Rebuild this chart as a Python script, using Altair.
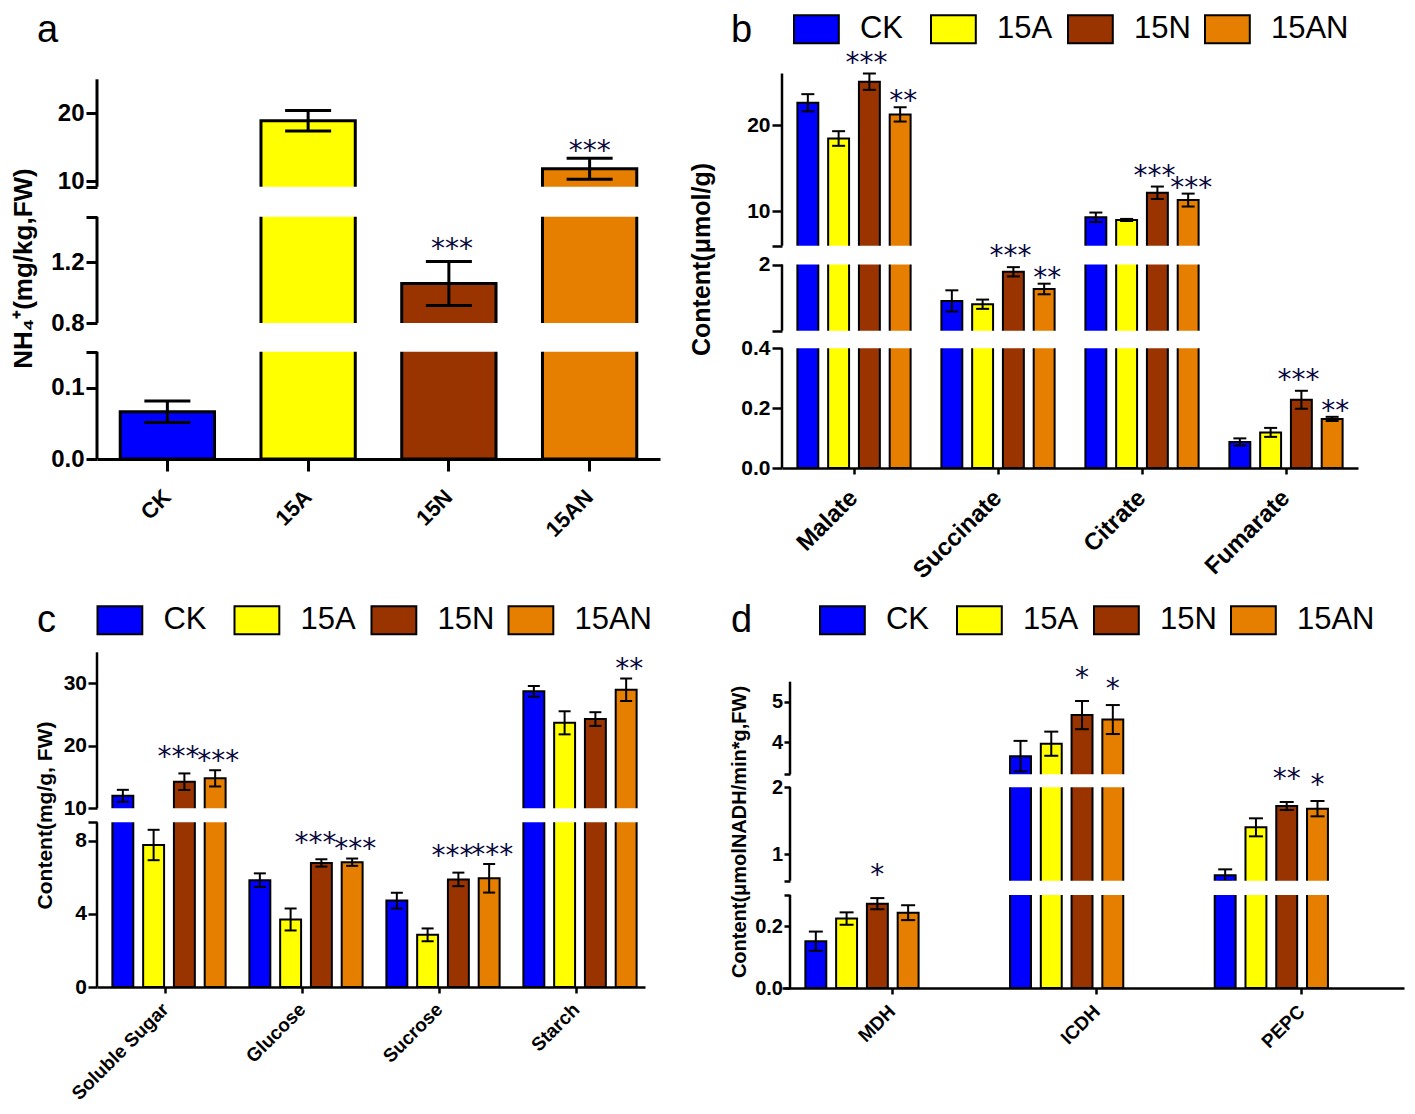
import json
import altair as alt
import pandas as pd

# ------------------------------------------------------------------ data
series = ["CK", "15A", "15N", "15AN"]
colors = ["#0000FF", "#FFFF00", "#993300", "#E67E00"]

# panel a : NH4+
a_values = [0.066, 18.9, 1.06, 11.85]
a_errors = [0.015, 1.5, 0.145, 1.55]
a_stars = ["", "", "***", "***"]
a_segments = [[0, 0.15], [0.8, 1.5], [9.2, 25]]
a_labels = [0, 0.1, 0.8, 1.2, 10, 20]

# panel b : organic acids
b_groups = ["Malate", "Succinate", "Citrate", "Fumarate"]
b_ck = [22.6, 1.45, 9.3, 0.087]
b_15a = [18.45, 1.40, 8.99, 0.119]
b_15n = [25.05, 1.89, 12.15, 0.228]
b_15an = [21.25, 1.63, 11.3, 0.164]
b_ck_err = [1.0, 0.16, 0.55, 0.012]
b_15a_err = [0.85, 0.07, 0.12, 0.015]
b_15n_err = [0.95, 0.07, 0.72, 0.03]
b_15an_err = [0.83, 0.08, 0.75, 0.007]
b_ck_stars = ["", "", "", ""]
b_15a_stars = ["", "", "", ""]
b_15n_stars = ["***", "***", "***", "***"]
b_15an_stars = ["**", "**", "***", "**"]
b_segments = [[0, 0.4], [1, 2], [6, 26]]
b_labels = [0, 0.2, 0.4, 2, 10, 20]

# panel c : sugars
c_groups = ["Soluble Sugar", "Glucose", "Sucrose", "Starch"]
c_ck = [12.0, 5.84, 4.72, 28.75]
c_15a = [7.76, 3.69, 2.85, 23.7]
c_15n = [14.26, 6.78, 5.88, 24.3]
c_15an = [14.8, 6.82, 5.94, 29.0]
c_ck_err = [0.96, 0.37, 0.43, 0.85]
c_15a_err = [0.83, 0.6, 0.35, 1.85]
c_15n_err = [1.33, 0.2, 0.37, 1.1]
c_15an_err = [1.3, 0.2, 0.78, 1.8]
c_ck_stars = ["", "", "", ""]
c_15a_stars = ["", "", "", ""]
c_15n_stars = ["***", "***", "***", ""]
c_15an_stars = ["***", "***", "***", "**"]
c_segments = [[0, 9], [10, 35]]
c_labels = [0, 4, 8, 10, 20, 30]

# panel d : enzymes
d_groups = ["MDH", "ICDH", "PEPC"]
d_ck = [0.151, 3.65, 0.68]
d_15a = [0.224, 3.96, 1.40]
d_15n = [0.272, 4.67, 1.72]
d_15an = [0.243, 4.56, 1.68]
d_ck_err = [0.031, 0.38, 0.09]
d_15a_err = [0.02, 0.30, 0.135]
d_15n_err = [0.018, 0.35, 0.06]
d_15an_err = [0.024, 0.36, 0.115]
d_ck_stars = ["", "", ""]
d_15a_stars = ["", "", ""]
d_15n_stars = ["*", "*", "**"]
d_15an_stars = ["", "*", "*"]
d_segments = [[0, 0.3], [0.6, 2], [3.2, 5.5]]
d_labels = [0, 0.2, 1, 2, 4, 5]

FONT = "Liberation Sans, Arial, Helvetica, sans-serif"
STAR_FONT = "DejaVu Sans, sans-serif"
STAR_COLOR = "#0a0a3c"


def grouped_frame(groups, vals, errs, stars):
    rows = []
    for s, vs, es, ss in zip(series, vals, errs, stars):
        for g, v, e, st in zip(groups, vs, es, ss):
            rows.append({"group": g, "series": s, "value": v,
                         "lo": v - e, "hi": v + e, "star": st})
    return pd.DataFrame(rows)


def single_frame(vals, errs, stars):
    rows = []
    for s, v, e, st in zip(series, vals, errs, stars):
        rows.append({"group": s, "series": s, "value": v,
                     "lo": v - e, "hi": v + e, "star": st})
    return pd.DataFrame(rows)


def panel(df, groups, segs, labels, P, grouped=True):
    bounds = [v for s in segs for v in s]
    yscale = alt.Scale(domain=bounds, range=P["yrange"], nice=False, zero=False)
    tick_vals = sorted(set(bounds[:-1]) | set(labels))
    label_expr = ("indexof(%s, datum.value) >= 0 ? format(datum.value, datum.value < %s ? '.1f' : 'd') : ''"
                  % (json.dumps(labels), P["thr"]))
    yaxis = alt.Axis(values=tick_vals, labelExpr=label_expr, domain=False, grid=False,
                     offset=P.get("yoff", 0),
                     tickSize=P["ytick"], tickWidth=P["aw"], tickColor="black",
                     labelFont=FONT, labelFontWeight="bold", labelFontSize=P["ylfs"],
                     labelColor="black", labelPadding=P["ylpad"], labelOverlap=False,
                     labelFlush=False, title=P["title"], titleFont=FONT,
                     titleFontWeight="bold", titleFontSize=P["tfs"], titleColor="black",
                     titleAngle=270, titleAlign="center", titleBaseline="alphabetic",
                     titleX=P["tx"], titleY=P["ty"])
    xaxis = alt.Axis(title=None, domainColor="black", domainWidth=P["aw"],
                     tickColor="black", tickWidth=P["aw"], tickSize=P["xtick"],
                     labelAngle=315, labelAlign="right", labelBaseline="middle",
                     labelPadding=P["xlpad"], labelFont=FONT, labelFontWeight="bold",
                     labelFontSize=P["xlfs"], labelColor="black", grid=False)
    xscale = alt.Scale(paddingInner=P["pi"], paddingOuter=P["po"], align=P.get("align", 0.5))
    x0 = -P.get("yoff", 0)

    def xenc():
        e = {"x": alt.X("group:N", sort=groups, scale=xscale, axis=xaxis)}
        if grouped:
            e["xOffset"] = alt.XOffset("series:N", sort=series,
                                       scale=alt.Scale(paddingInner=0.32, paddingOuter=0.5))
        return e

    def Y(f):
        return alt.Y(f, scale=yscale, axis=yaxis)

    if P.get("legend"):
        lx, ly = P["legend"]
        leg = alt.Legend(orient="none", legendX=lx, legendY=ly, direction="horizontal",
                         title=None, symbolType="M-1.6,-1H1.6V1H-1.6Z", symbolSize=784,
                         symbolStrokeColor="black", symbolStrokeWidth=2,
                         labelFont=FONT, labelFontSize=31, labelColor="black",
                         labelOffset=28, columnPadding=-11, gridAlign="all", padding=0)
    else:
        leg = None
    color = alt.Color("series:N", scale=alt.Scale(domain=series, range=colors), legend=leg)

    base = alt.Chart(df)
    bars = base.mark_bar(stroke="black", strokeWidth=P["bsw"]).encode(
        y=Y("value:Q"), color=color, **xenc())
    err = base.mark_rule(color="black", strokeWidth=P["esw"]).encode(
        y=Y("lo:Q"), y2="hi:Q", **xenc())
    caps = base.transform_fold(["lo", "hi"], as_=["k", "v"]).mark_tick(
        orient="horizontal", size=P["cap"], thickness=P["esw"], color="black", opacity=1).encode(
        y=Y("v:Q"), **xenc())

    gaps_df = pd.DataFrame([{"lo": segs[i][1], "hi": segs[i + 1][0]} for i in range(len(segs) - 1)])
    gaps = alt.Chart(gaps_df).mark_rect(color="white").encode(
        x=alt.value(x0 + 1.5), x2=alt.value(P["width"] + 2), y=Y("lo:Q"), y2="hi:Q")

    segs_df = pd.DataFrame([{"lo": s[0], "hi": s[1]} for s in segs])
    axis_rule = alt.Chart(segs_df).mark_rule(color="black", strokeWidth=P["aw"]).encode(
        x=alt.value(x0), y=Y("lo:Q"), y2="hi:Q")

    star_layers = []
    for s in series:
        star_layers.append(
            base.transform_filter("datum.series == '%s' && datum.star != ''" % s).mark_text(
                font=STAR_FONT, fontSize=28, color=STAR_COLOR, baseline="middle",
                dx=P["sdx"].get(s, 0), dy=-P["soff"].get(s, 10)).encode(
                y=Y("hi:Q"), text="star:N", **xenc()))

    letter = alt.Chart(pd.DataFrame({"t": [P["letter"]]})).mark_text(
        align="left", baseline="alphabetic", font=FONT, fontSize=38, color="black").encode(
        x=alt.value(P["lx"]), y=alt.value(P["ly"]), text="t:N")

    return alt.layer(bars, err, caps, gaps, axis_rule, *star_layers, letter).properties(
        width=P["width"], height=P["height"])


dfa = single_frame(a_values, a_errors, a_stars)
dfb = grouped_frame(b_groups, [b_ck, b_15a, b_15n, b_15an],
                    [b_ck_err, b_15a_err, b_15n_err, b_15an_err],
                    [b_ck_stars, b_15a_stars, b_15n_stars, b_15an_stars])
dfc = grouped_frame(c_groups, [c_ck, c_15a, c_15n, c_15an],
                    [c_ck_err, c_15a_err, c_15n_err, c_15an_err],
                    [c_ck_stars, c_15a_stars, c_15n_stars, c_15an_stars])
dfd = grouped_frame(d_groups, [d_ck, d_15a, d_15n, d_15an],
                    [d_ck_err, d_15a_err, d_15n_err, d_15an_err],
                    [d_ck_stars, d_15a_stars, d_15n_stars, d_15an_stars])

PA = dict(width=563, height=386, yrange=[386, 278.8, 250, 143.8, 113.7, 6.3], thr=5,
          pi=0.33, po=0.165, bsw=3, aw=3, esw=3, cap=46, ytick=11, ylfs=24, ylpad=2,
          title="NH₄⁺(mg/kg,FW)", tfs=26, tx=-66, ty=195, xtick=12, xlfs=22, xlpad=22,
          soff={"15N": 12, "15AN": 6}, sdx={"15N": 3, "15AN": 0},
          letter="a", lx=-60, ly=-31.5)
PB = dict(width=576, height=395, yrange=[395, 275.3, 257.7, 191.5, 172.7, 0.5], thr=1,
          pi=0, po=0, bsw=2, aw=2.5, esw=2, cap=13, ytick=10, ylfs=21, ylpad=2,
          title="Content(μmol/g)", tfs=25, tx=-73, ty=186, xtick=6, xlfs=24, xlpad=20,
          soff={"15N": 10, "15AN": 5}, sdx={"15N": -3, "15AN": 3},
          letter="b", lx=-51, ly=-31.5, legend=(18.9, -59.5))
PC = dict(width=548, height=335, yrange=[335, 170.3, 156.3, 0.3], thr=-1,
          pi=0, po=0, bsw=2, aw=2.5, esw=2, cap=12, ytick=9, ylfs=21, ylpad=1.5,
          title="Content(mg/g, FW)", tfs=21, tx=-46, ty=163, xtick=6, xlfs=19, xlpad=13,
          soff={"15N": 15.5, "15AN": 8.5}, sdx={"15N": -6, "15AN": 3},
          letter="c", lx=-60, ly=-20, legend=(7.4, -47.5))
PD = dict(width=622, height=336, yrange=[336, 243, 228.7, 135.3, 122.3, 29.7], thr=0.5,
          pi=0, po=0.0195, align=1, yoff=-8, bsw=2, aw=2.5, esw=2, cap=14, ytick=6,
          ylfs=20, ylpad=1.5, title="Content(μmolNADH/min*g,FW)", tfs=20, tx=-45,
          ty=179.5, xtick=6, xlfs=19, xlpad=14,
          soff={"15N": 22, "15AN": 15}, sdx={"15N": 0, "15AN": 0},
          letter="d", lx=-51, ly=-20, legend=(44.9, -47.5))

A = panel(dfa, series, a_segments, a_labels, PA, grouped=False)
B = panel(dfb, b_groups, b_segments, b_labels, PB)
C = panel(dfc, c_groups, c_segments, c_labels, PC)
D = panel(dfd, d_groups, d_segments, d_labels, PD)

chart = alt.concat(A, B, C, D, columns=2, spacing={"row": 184, "column": 122},
                   bounds="flush").resolve_scale(color="independent").resolve_legend(
    color="independent").properties(
    padding={"top": 3, "left": 2, "right": 0, "bottom": 0}).configure_view(
    strokeWidth=0).configure_axis(grid=False)

chart.save("out.html", embed_options={"renderer": "svg", "actions": False})
